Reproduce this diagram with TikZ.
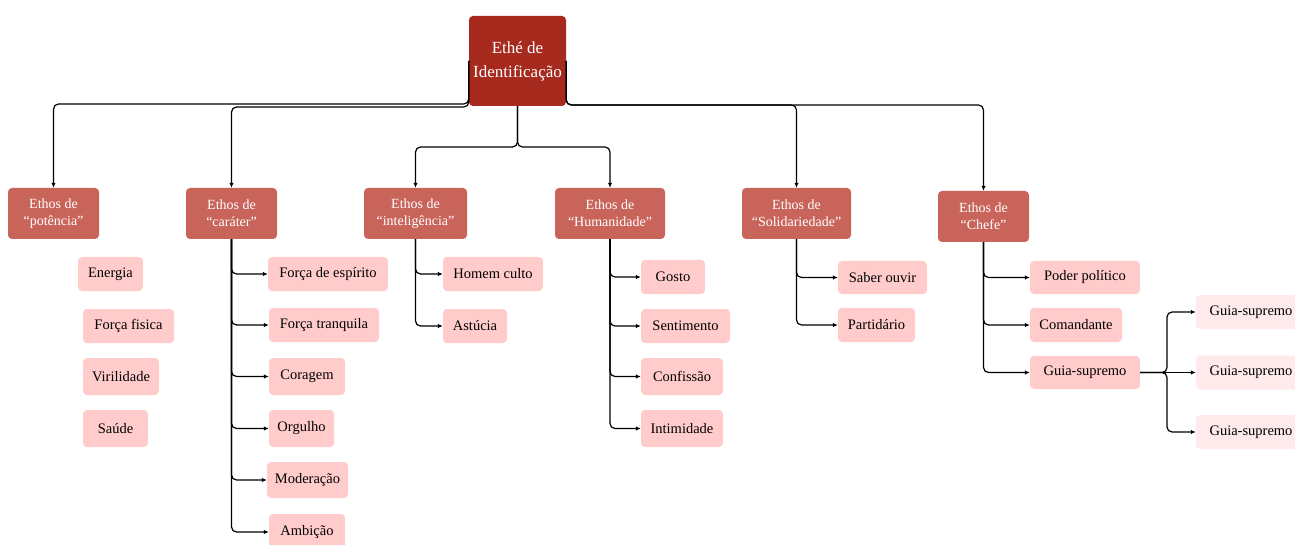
\documentclass[tikz,border=0pt]{standalone}
\usepackage{fontspec}
\setmainfont{Liberation Serif}
\usetikzlibrary{arrows.meta}
\definecolor{rootred}{RGB}{166,42,30}
\definecolor{midred}{RGB}{201,100,91}
\definecolor{lightpink}{RGB}{255,204,203}
\definecolor{palepink}{RGB}{255,234,235}
\begin{document}
\begin{tikzpicture}[x=1pt,y=-1pt,
  rootbox/.style={fill=rootred, text=white, rounded corners=4pt, font=\fontsize{17}{24}\selectfont, align=center, inner sep=0pt},
  catbox/.style={fill=midred, text=white, rounded corners=4pt, font=\fontsize{14}{17}\selectfont, align=center, inner sep=0pt, minimum height=51},
  itembox/.style={fill=lightpink, rounded corners=4pt, font=\fontsize{14.5}{17}\selectfont, inner sep=0pt},
  subbox/.style={fill=palepink, rounded corners=4pt, font=\fontsize{14.5}{17}\selectfont, inner sep=0pt, minimum width=110, minimum height=34},
  conn/.style={draw=black, line width=1.2pt, rounded corners=5pt, -{Latex[length=5pt,width=4.5pt]}},
  ]
\useasboundingbox (0,0) rectangle (1295,545);
% root
\node[rootbox, minimum width=97, minimum height=90] (root) at (517.5,61) {Ethé de\\Identificação};
% categories
\node[catbox, minimum width=91]  (pot)  at (53.5,213.5)  {Ethos de\\“potência”};
\node[catbox, minimum width=91]  (car)  at (231.5,213.5) {Ethos de\\“caráter”};
\node[catbox, minimum width=103] (int)  at (415.5,213.5) {Ethos de\\“inteligência”};
\node[catbox, minimum width=110] (hum)  at (610,213.5)   {Ethos de\\“Humanidade”};
\node[catbox, minimum width=109] (sol)  at (796.5,213.5) {Ethos de\\“Solidariedade"};
\node[catbox, minimum width=91]  (chef) at (983.5,216.5) {Ethos de\\“Chefe”};
% potencia items
\node[itembox, minimum width=65, minimum height=34] (en)  at (110.5,274) {Energia};
\node[itembox, minimum width=91, minimum height=34] (ff)  at (128.5,326) {Força fisica};
\node[itembox, minimum width=76, minimum height=37] (vir) at (121,376.5) {Virilidade};
\node[itembox, minimum width=65, minimum height=37] (sau) at (115.5,428.5) {Saúde};
% carater items
\node[itembox, minimum width=120, minimum height=34] (fe)  at (328,274)   {Força de espírito};
\node[itembox, minimum width=110, minimum height=34] (ft)  at (324,325)   {Força tranquila};
\node[itembox, minimum width=76,  minimum height=37] (cor) at (307,376.5) {Coragem};
\node[itembox, minimum width=65,  minimum height=37] (org) at (301.5,428.5) {Orgulho};
\node[itembox, minimum width=81,  minimum height=36] (mod) at (307.5,480) {Moderação};
\node[itembox, minimum width=76,  minimum height=36] (amb) at (307,532)   {Ambição};
% inteligencia items
\node[itembox, minimum width=100, minimum height=34] (hc)  at (493,274) {Homem culto};
\node[itembox, minimum width=64,  minimum height=34] (ast) at (475,326) {Astúcia};
% humanidade items
\node[itembox, minimum width=64, minimum height=34] (gos)  at (673,277)   {Gosto};
\node[itembox, minimum width=89, minimum height=34] (sen)  at (685.5,326) {Sentimento};
\node[itembox, minimum width=82, minimum height=37] (con)  at (682,376.5) {Confissão};
\node[itembox, minimum width=82, minimum height=37] (inti) at (682,428.5) {Intimidade};
% solidariedade items
\node[itembox, minimum width=89, minimum height=33] (so)  at (882.5,277.5) {Saber ouvir};
\node[itembox, minimum width=77, minimum height=34] (par) at (876.5,325)   {Partidário};
% chefe items
\node[itembox, minimum width=110, minimum height=33] (pp)  at (1085,277.5) {Poder político};
\node[itembox, minimum width=92,  minimum height=34] (com) at (1076,325)   {Comandante};
\node[itembox, minimum width=110, minimum height=33] (gs)  at (1085,372.5) {Guia-supremo};
% guia-supremo sub items
\node[subbox] (g1) at (1251,312) {Guia-supremo};
\node[subbox] (g2) at (1251,372.5) {Guia-supremo};
\node[subbox] (g3) at (1251,432) {Guia-supremo};
% root connectors
\draw[conn] (root.west) |- (pot.north |- 0,104) -- (pot.north);
\draw[conn] (root.west) |- (car.north |- 0,107) -- (car.north);
\draw[conn] (root.south) |- (int.north |- 0,147) -- (int.north);
\draw[conn] (root.south) |- (hum.north |- 0,147) -- (hum.north);
\draw[conn] (root.east) |- (sol.north |- 0,105) -- (sol.north);
\draw[conn] (root.east) |- (chef.north |- 0,105) -- (chef.north);
% carater
\foreach \n in {fe,ft,cor,org,mod,amb} \draw[conn] (car.south) |- (\n.west);
% inteligencia
\foreach \n in {hc,ast} \draw[conn] (int.south) |- (\n.west);
% humanidade
\foreach \n in {gos,sen,con,inti} \draw[conn] (hum.south) |- (\n.west);
% solidariedade
\foreach \n in {so,par} \draw[conn] (sol.south) |- (\n.west);
% chefe
\foreach \n in {pp,com,gs} \draw[conn] (chef.south) |- (\n.west);
% guia-supremo branches
\coordinate (gj) at (1167,372.5);
\draw[conn] (gs.east) -- (gj) |- (g1.west);
\draw[conn] (gs.east) -- (gj) |- (g3.west);
\draw[conn] (gs.east) -- (g2.west);
\end{tikzpicture}
\end{document}
